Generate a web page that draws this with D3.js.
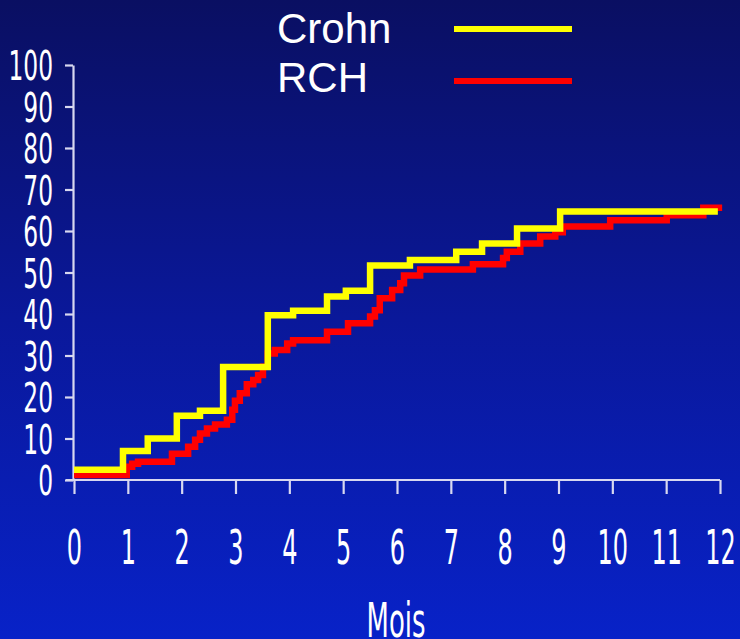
<!DOCTYPE html>
<html>
<head>
<meta charset="utf-8">
<script src="https://cdn.jsdelivr.net/npm/d3@7"></script>
<style>
  html, body { margin: 0; padding: 0; background: #0a1890; }
  svg { display: block; }
</style>
</head>
<body>
<svg id="chart" width="740" height="639"></svg>
<script>
// Cumulative incidence (%) by month, step functions
const months = d3.range(0, 13);
const yTicks = d3.range(0, 101, 10);

const crohnTime = [0, 0.91, 1.37, 1.91, 2.34, 2.77, 3.60, 4.07, 4.70, 5.05, 5.50, 6.24, 7.10, 7.58, 8.23, 9.03, 11.96];
const crohnPct  = [2.5, 7.0, 10.0, 15.5, 16.7, 27.2, 39.7, 40.8, 44.2, 45.6, 51.7, 53.0, 55.0, 57.0, 60.6, 64.7, 64.7];

const rchTime = [0, 0.98, 1.08, 1.19, 1.82, 2.12, 2.25, 2.34, 2.47, 2.62, 2.84, 2.94, 2.99, 3.08, 3.21, 3.33, 3.42, 3.51, 3.60, 3.73, 3.96, 4.07, 4.70, 5.09, 5.50, 5.59, 5.68, 5.91, 6.06, 6.13, 6.43, 7.41, 7.97, 8.04, 8.29, 8.66, 8.94, 9.08, 9.96, 11.01, 11.69, 12.04];
const rchPct  = [1.2, 3.2, 3.9, 4.4, 6.3, 8.0, 9.7, 11.2, 12.4, 13.4, 14.5, 16.9, 19.1, 20.9, 23.1, 24.1, 25.3, 27.3, 30.5, 31.3, 32.9, 33.7, 35.7, 37.8, 39.4, 40.9, 43.8, 45.8, 47.4, 49.3, 50.7, 52.0, 53.5, 55.0, 57.0, 58.7, 59.7, 61.1, 62.6, 63.8, 65.6, 65.6];

const seriesNames = ["Crohn", "RCH"];
const seriesColors = ["#ffff00", "#ff0000"];
const xTitle = "Mois";

const svg = d3.select("#chart");
const W = 740, H = 639;

// background gradient
const defs = svg.append("defs");
const grad = defs.append("linearGradient")
  .attr("id", "bg").attr("x1", 0).attr("y1", 0).attr("x2", 0).attr("y2", 1);
grad.append("stop").attr("offset", "0%").attr("stop-color", "#0a0f62");
grad.append("stop").attr("offset", "50%").attr("stop-color", "#0a189a");
grad.append("stop").attr("offset", "100%").attr("stop-color", "#0822c8");
svg.append("rect").attr("width", W).attr("height", H).attr("fill", "url(#bg)");

const x = d3.scaleLinear().domain([0, 12]).range([74, 720]);
const y = d3.scaleLinear().domain([0, 100]).range([480, 65]);

const axisColor = "#d8d8f0";
const labelFont = "'DejaVu Sans', Verdana, sans-serif";

// y axis
const ySX = 0.57;
const gy = svg.append("g")
  .attr("transform", `translate(${x(0) - 1},0)`)
  .call(d3.axisLeft(y).tickValues(yTicks).tickSize(8).tickSizeOuter(0).tickPadding(0));
gy.select(".domain").attr("stroke", axisColor).attr("stroke-width", 2.2);
gy.selectAll(".tick line").attr("stroke", axisColor).attr("stroke-width", 2.2);
gy.selectAll(".tick text")
  .attr("fill", "#ffffff")
  .attr("font-family", labelFont)
  .attr("font-size", 41)
  .attr("x", -20 / ySX)
  .attr("dy", "0.36em")
  .attr("transform", `scale(${ySX},1)`);

// x axis
const xSX = 0.5;
const gx = svg.append("g")
  .attr("transform", `translate(0,${y(0)})`)
  .call(d3.axisBottom(x).tickValues(months).tickSize(14).tickSizeOuter(0).tickPadding(0));
gx.select(".domain").attr("stroke", axisColor).attr("stroke-width", 2.2)
  .attr("d", `M${x(0) - 8},0H${x(12)}`);
gx.selectAll(".tick line").attr("stroke", axisColor).attr("stroke-width", 2.2);
gx.selectAll(".tick text")
  .attr("fill", "#ffffff")
  .attr("font-family", labelFont)
  .attr("font-size", 48)
  .attr("y", 0)
  .attr("dy", 84)
  .attr("transform", `scale(${xSX},1)`);

// x axis title
svg.append("g")
  .attr("transform", `translate(396,637) scale(0.54,1)`)
  .append("text")
  .attr("text-anchor", "middle")
  .attr("fill", "#ffffff")
  .attr("font-family", labelFont)
  .attr("font-size", 48)
  .text(xTitle);

// step curves
const line = d3.line()
  .x(d => x(d[0]))
  .y(d => y(d[1]))
  .curve(d3.curveStepAfter);

const series = [
  { name: seriesNames[1], color: seriesColors[1], pts: d3.zip(rchTime, rchPct) },
  { name: seriesNames[0], color: seriesColors[0], pts: d3.zip(crohnTime, crohnPct) }
];
svg.append("g").selectAll("path")
  .data(series)
  .join("path")
  .attr("d", d => line(d.pts))
  .attr("fill", "none")
  .attr("stroke", d => d.color)
  .attr("stroke-width", 6.5)
  .attr("stroke-linejoin", "miter");

// legend
const legend = svg.append("g");
const legendRows = [
  { name: seriesNames[0], color: seriesColors[0], ty: 43, ly: 29 },
  { name: seriesNames[1], color: seriesColors[1], ty: 92, ly: 81 }
];
legendRows.forEach(r => {
  legend.append("text")
    .attr("x", 277).attr("y", r.ty)
    .attr("fill", "#ffffff")
    .attr("font-family", "'Liberation Sans', Arial, sans-serif")
    .attr("font-size", 42)
    .text(r.name);
  legend.append("line")
    .attr("x1", 454).attr("x2", 572)
    .attr("y1", r.ly).attr("y2", r.ly)
    .attr("stroke", r.color).attr("stroke-width", 6);
});
</script>
</body>
</html>
